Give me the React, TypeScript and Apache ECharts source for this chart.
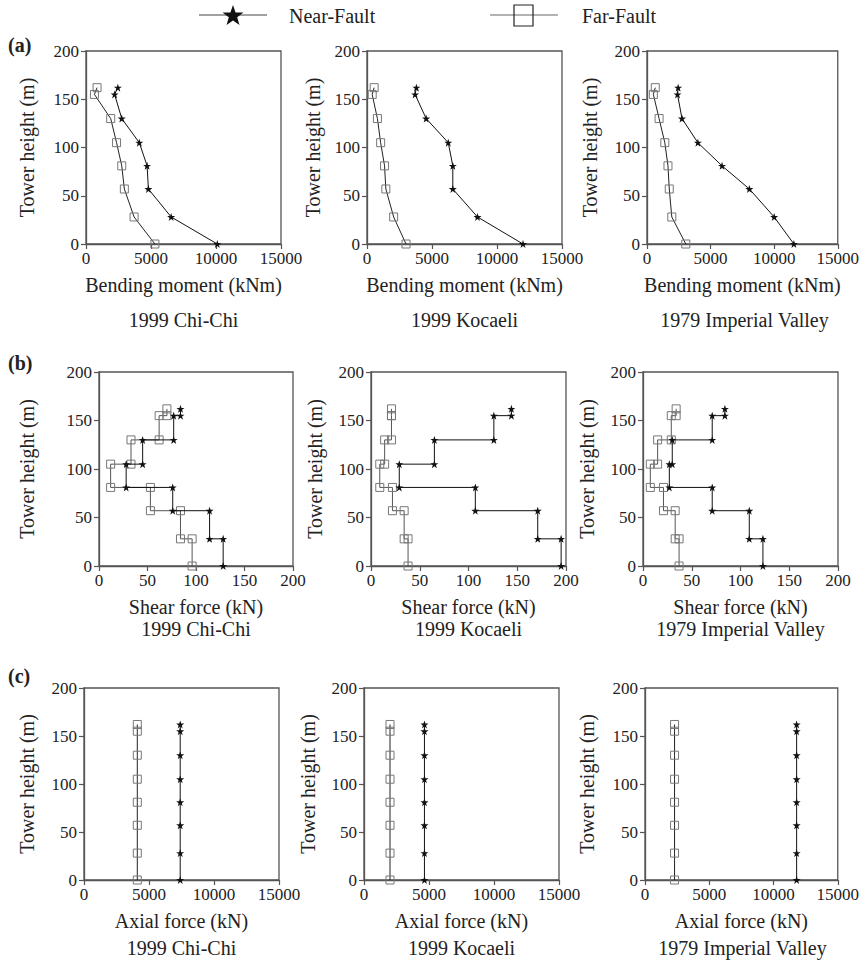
import React, { useEffect, useRef } from "react";
import * as echarts from "echarts";

// ---------- DATA ----------
const HEIGHTS = [0, 28, 57, 81, 105, 130, 155, 162];

// (a) Bending moment (kNm) at each height
const bmNearChiChi = [10100, 6550, 4800, 4700, 4100, 2750, 2200, 2450];
const bmFarChiChi = [5300, 3700, 2950, 2750, 2350, 1900, 650, 850];
const bmNearKocaeli = [12000, 8500, 6600, 6600, 6250, 4550, 3700, 3800];
const bmFarKocaeli = [3000, 2050, 1450, 1350, 1050, 800, 400, 550];
const bmNearImperial = [11550, 10000, 8050, 5900, 4000, 2750, 2400, 2450];
const bmFarImperial = [3050, 1950, 1750, 1650, 1400, 950, 500, 650];

// (b) Shear force (kN) per segment between consecutive heights
const sfNearChiChi = [128, 114, 76, 28, 45, 77, 84];
const sfFarChiChi = [96, 84, 53, 12, 33, 62, 70];
const sfNearKocaeli = [195, 171, 107, 29, 65, 126, 144];
const sfFarKocaeli = [38, 34, 22, 9, 14, 21, 21];
const sfNearImperial = [123, 109, 71, 27, 30, 71, 84];
const sfFarImperial = [37, 33, 21, 7.5, 15, 29, 34];

// (c) Axial force (kN) at each height
const afNearChiChi = [7400, 7400, 7400, 7400, 7400, 7400, 7400, 7400];
const afFarChiChi = [4100, 4100, 4100, 4100, 4100, 4100, 4100, 4100];
const afNearKocaeli = [4650, 4650, 4650, 4650, 4650, 4650, 4650, 4650];
const afFarKocaeli = [2000, 2000, 2000, 2000, 2000, 2000, 2000, 2000];
const afNearImperial = [11800, 11800, 11800, 11800, 11800, 11800, 11800, 11800];
const afFarImperial = [2300, 2300, 2300, 2300, 2300, 2300, 2300, 2300];

const EARTHQUAKES = ["1999 Chi-Chi", "1999 Kocaeli", "1979 Imperial Valley"];
const SERIES_NAMES = ["Near-Fault", "Far-Fault"];
const X_NAMES = ["Bending moment (kNm)", "Shear force (kN)", "Axial force (kN)"];
const Y_NAME = "Tower height (m)";
const PANEL_LABELS = ["(a)", "(b)", "(c)"];

// ---------- LAYOUT ----------
const ROWS = [
  { top: 51, height: 193, lefts: [86, 367, 647], widths: [195, 195, 195], yGaps: [49, 44, 47], labelY: 45, titleY: 320, xMax: 15000, xInt: 5000 },
  { top: 372, height: 194, lefts: [99, 371, 643], widths: [194, 195, 195], yGaps: [62, 46, 46], labelY: 363, titleY: 629, xMax: 200, xInt: 50 },
  { top: 688, height: 192, lefts: [84, 364, 645], widths: [195, 195, 195], yGaps: [47, 46, 48], labelY: 676, titleY: 948, xMax: 15000, xInt: 5000 },
];

const FONT = "'Liberation Serif', 'Times New Roman', serif";
const STAR =
  "path://M0,-10 L2.35,-3.09 L9.51,-3.09 L3.8,1.18 L5.88,8.09 L0,3.82 L-5.88,8.09 L-3.8,1.18 L-9.51,-3.09 L-2.35,-3.09 Z";

function pointsAt(values: number[]) {
  return values.map((v, i) => [v, HEIGHTS[i]]);
}
function stepPoints(values: number[]) {
  const pts: number[][] = [];
  values.forEach((v, i) => {
    pts.push([v, HEIGHTS[i]]);
    pts.push([v, HEIGHTS[i + 1]]);
  });
  return pts;
}

function starPolygon(cx: number, cy: number, r: number) {
  const pts: number[][] = [];
  for (let i = 0; i < 10; i++) {
    const rr = i % 2 === 0 ? r : r * 0.4;
    const a = -Math.PI / 2 + (i * Math.PI) / 5;
    pts.push([cx + rr * Math.cos(a), cy + rr * Math.sin(a)]);
  }
  return pts;
}

export default function App() {
  const ref = useRef<HTMLDivElement>(null);
  useEffect(() => {
    if (!ref.current) return;
    const chart = echarts.init(ref.current, undefined, { renderer: "svg" });

    const panelData = [
      [
        [pointsAt(bmNearChiChi), pointsAt(bmFarChiChi)],
        [pointsAt(bmNearKocaeli), pointsAt(bmFarKocaeli)],
        [pointsAt(bmNearImperial), pointsAt(bmFarImperial)],
      ],
      [
        [stepPoints(sfNearChiChi), stepPoints(sfFarChiChi)],
        [stepPoints(sfNearKocaeli), stepPoints(sfFarKocaeli)],
        [stepPoints(sfNearImperial), stepPoints(sfFarImperial)],
      ],
      [
        [pointsAt(afNearChiChi), pointsAt(afFarChiChi)],
        [pointsAt(afNearKocaeli), pointsAt(afFarKocaeli)],
        [pointsAt(afNearImperial), pointsAt(afFarImperial)],
      ],
    ];

    const grids: any[] = [];
    const xAxes: any[] = [];
    const yAxes: any[] = [];
    const series: any[] = [];
    const graphics: any[] = [];
    const axisColor = "#555";
    const textColor = "#222";
    const plain = (v: number) => String(v);

    ROWS.forEach((row, r) => {
      graphics.push({
        type: "text",
        x: 8,
        y: row.labelY,
        style: {
          text: PANEL_LABELS[r],
          font: `bold 20px ${FONT}`,
          fill: textColor,
          verticalAlign: "middle",
        },
      });
      for (let c = 0; c < 3; c++) {
        const idx = r * 3 + c;
        grids.push({
          left: row.lefts[c],
          top: row.top,
          width: row.widths[c],
          height: row.height,
          show: true,
          borderColor: axisColor,
          borderWidth: 1.3,
          backgroundColor: "transparent",
        });
        xAxes.push({
          gridIndex: idx,
          type: "value",
          min: 0,
          max: row.xMax,
          interval: row.xInt,
          axisLine: { show: true, onZero: false, lineStyle: { color: axisColor, width: 1.3 } },
          axisTick: { show: true, length: 5, lineStyle: { color: axisColor, width: 1.2 } },
          splitLine: { show: false },
          axisLabel: { fontSize: 17, color: textColor, margin: 6, fontFamily: FONT, formatter: plain },
          name: X_NAMES[r],
          nameLocation: "middle",
          nameGap: 31,
          nameTextStyle: { fontSize: 20, color: textColor, fontFamily: FONT },
        });
        yAxes.push({
          gridIndex: idx,
          type: "value",
          min: 0,
          max: 200,
          interval: 50,
          axisLine: { show: true, onZero: false, lineStyle: { color: axisColor, width: 1.3 } },
          axisTick: { show: true, length: 5, lineStyle: { color: axisColor, width: 1.2 } },
          splitLine: { show: false },
          axisLabel: { fontSize: 17, color: textColor, margin: 7, fontFamily: FONT, formatter: plain },
          name: Y_NAME,
          nameLocation: "middle",
          nameGap: row.yGaps[c],
          nameTextStyle: { fontSize: 20, color: textColor, fontFamily: FONT },
        });
        const [near, far] = panelData[r][c];
        series.push({
          name: SERIES_NAMES[1],
          type: "line",
          xAxisIndex: idx,
          yAxisIndex: idx,
          data: far,
          symbol: "rect",
          symbolSize: 8,
          lineStyle: { color: r === 1 ? "#555" : "#222", width: 1 },
          itemStyle: { color: "rgba(255,255,255,0)", borderColor: "#777", borderWidth: 1 },
          z: 3,
        });
        series.push({
          name: SERIES_NAMES[0],
          type: "line",
          xAxisIndex: idx,
          yAxisIndex: idx,
          data: near,
          symbol: STAR,
          symbolSize: 8,
          lineStyle: { color: "#111", width: 1 },
          itemStyle: { color: "#111" },
          z: 4,
        });
        const cx = row.lefts[c] + row.widths[c] / 2;
        graphics.push({
          type: "text",
          x: cx,
          y: row.titleY,
          style: {
            text: EARTHQUAKES[c],
            font: `20px ${FONT}`,
            fill: textColor,
            align: "center",
            verticalAlign: "middle",
          },
        });
      }
    });

    // legend
    graphics.push(
      { type: "line", shape: { x1: 199, y1: 15, x2: 267, y2: 15 }, style: { stroke: "#444", lineWidth: 1 } },
      { type: "polygon", shape: { points: starPolygon(233, 16, 11) }, style: { fill: "#111" } },
      {
        type: "text",
        x: 289,
        y: 16,
        style: { text: SERIES_NAMES[0], font: `20px ${FONT}`, fill: textColor, verticalAlign: "middle" },
      },
      { type: "line", shape: { x1: 490, y1: 15, x2: 558, y2: 15 }, style: { stroke: "#666", lineWidth: 1 } },
      {
        type: "rect",
        shape: { x: 514, y: 5, width: 19, height: 21 },
        style: { fill: "rgba(255,255,255,0)", stroke: "#222", lineWidth: 1.2 },
      },
      {
        type: "text",
        x: 582,
        y: 16,
        style: { text: SERIES_NAMES[1], font: `20px ${FONT}`, fill: textColor, verticalAlign: "middle" },
      }
    );

    chart.setOption({
      animation: false,
      backgroundColor: "#fff",
      textStyle: { fontFamily: FONT },
      grid: grids,
      xAxis: xAxes,
      yAxis: yAxes,
      series,
      graphic: graphics,
    });
    return () => chart.dispose();
  }, []);

  return (
    <div
      ref={ref}
      style={{ position: "fixed", left: 0, top: 0, width: 862, height: 962, background: "#fff" }}
    />
  );
}
